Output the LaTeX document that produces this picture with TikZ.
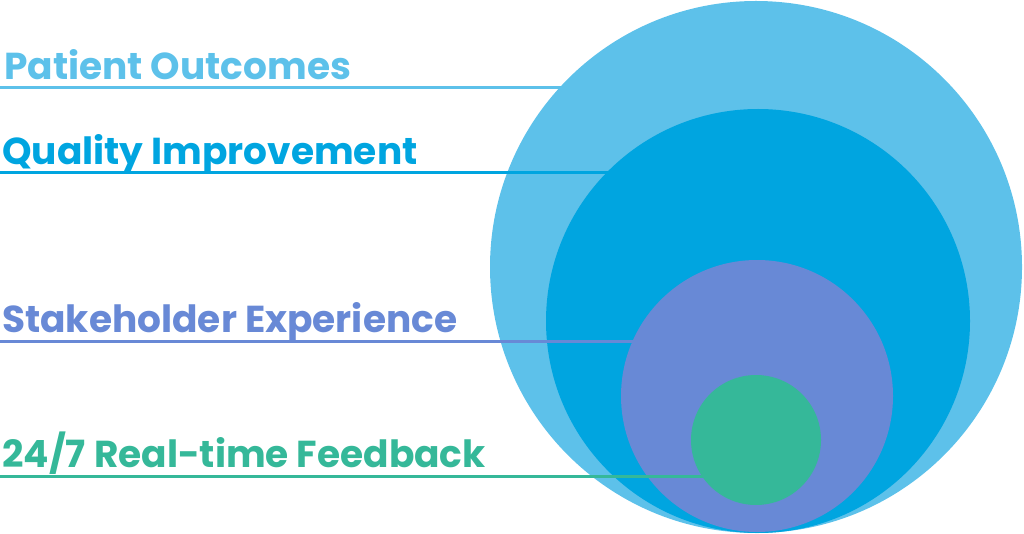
\documentclass[tikz,border=0pt]{standalone}
\usepackage{fontspec}
\setmainfont{Poppins}
\definecolor{cA}{HTML}{5DC1EA}
\definecolor{cB}{HTML}{00A5E0}
\definecolor{cC}{HTML}{6889D6}
\definecolor{cD}{HTML}{35B899}
\begin{document}
\begin{tikzpicture}[x=1pt,y=-1pt,
  lbl/.style={anchor=base west,inner sep=0pt,font=\fontsize{37.5}{38}\selectfont\bfseries},
  ln/.style={line width=3pt}]
\useasboundingbox (0,0) rectangle (1024,534);
\coordinate (pa) at (0,88); \coordinate (pb) at (700,88);
\coordinate (qa) at (0,173); \coordinate (qb) at (700,173);
\coordinate (sa) at (0,341); \coordinate (sb) at (700,341);
\coordinate (fa) at (0,476); \coordinate (fb) at (720,476);
\node[lbl,text=cA] (t1) at (4,80) {Patient Outcomes};
\node[lbl,text=cB] (t2) at (2,165) {Quality Improvement};
\node[lbl,text=cC] (t3) at (2,332) {Stakeholder Experience};
\node[lbl,text=cD] (t4) at (2,467) {24/7 Real-time Feedback};
\draw[ln,cA] (pa) -- (pb);
\fill[cA] (756,267) circle (266);
\draw[ln,cB] (qa) -- (qb);
\fill[cB] (758,321) circle (212);
\draw[ln,cC] (sa) -- (sb);
\fill[cC] (757,396) circle (136);
\draw[ln,cD] (fa) -- (fb);
\fill[cD] (756,440) circle (65);
\end{tikzpicture}
\end{document}
